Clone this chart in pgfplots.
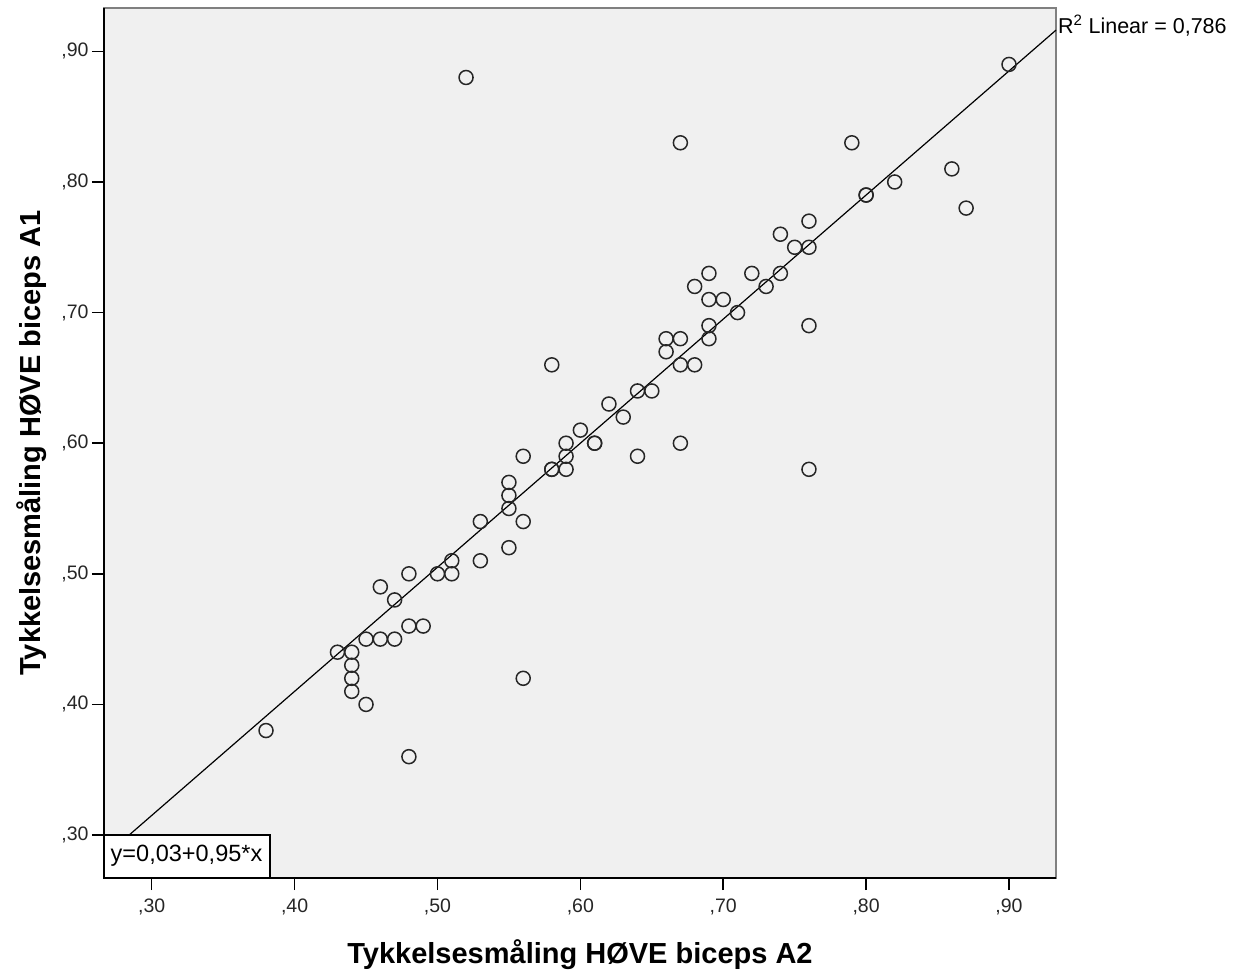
\documentclass[border=0pt]{standalone}
\usepackage{fontspec}
\setmainfont{Liberation Sans}
\usepackage{pgfplots}
\pgfplotsset{compat=1.18}
\definecolor{bg}{HTML}{F0F0F0}
\definecolor{framegray}{HTML}{808080}
\begin{document}
\begin{tikzpicture}
\useasboundingbox (-104pt,-92pt) rectangle (1132pt,878pt);
\begin{axis}[
  at={(0pt,0pt)}, anchor=south west,
  scale only axis, width=952pt, height=870pt,
  xmin=0.2666, xmax=0.9329, ymin=0.2671, ymax=0.9332,
  axis background/.style={fill=bg},
  axis line style={draw=framegray, line width=2pt},
  xtick={0.3,0.4,0.5,0.6,0.7,0.8,0.9},
  xticklabels={{,30},{,40},{,50},{,60},{,70},{,80},{,90}},
  ytick={0.3,0.4,0.5,0.6,0.7,0.8,0.9},
  yticklabels={{,30},{,40},{,50},{,60},{,70},{,80},{,90}},
  tick align=outside, xtick pos=left, ytick pos=left,
  major tick length=12pt,
  every tick/.style={black, line width=1.5pt},
  tick label style={font=\fontsize{19.5}{22}\selectfont, text=black!85},
  xticklabel style={yshift=-5pt},
  /pgf/number format/assume math mode=true,
  clip=false,
  xlabel={Tykkelsesmåling HØVE biceps A2},
  ylabel={Tykkelsesmåling HØVE biceps A1},
  label style={font=\bfseries\fontsize{29}{34}\selectfont},
  xlabel style={at={(axis description cs:0.5,-0.0977)}, anchor=base},
  ylabel style={at={(axis description cs:-0.0672,0.5)}, anchor=base},
]
\addplot[black, line width=1.2pt] coordinates {(0.2666,0.28327) (0.9329,0.91626)};
\addplot[only marks, mark=o, mark size=7pt, black!85, mark options={line width=1.5pt}] coordinates {
(0.52,0.88) (0.67,0.83) (0.90,0.89) (0.79,0.83) (0.86,0.81) (0.82,0.80)
(0.80,0.79) (0.80,0.79) (0.87,0.78) (0.76,0.77) (0.74,0.76) (0.75,0.75)
(0.76,0.75) (0.69,0.73) (0.72,0.73) (0.74,0.73) (0.68,0.72) (0.73,0.72)
(0.69,0.71) (0.70,0.71) (0.71,0.70) (0.69,0.69) (0.76,0.69) (0.66,0.68)
(0.67,0.68) (0.69,0.68) (0.66,0.67) (0.58,0.66) (0.67,0.66) (0.68,0.66)
(0.64,0.64) (0.65,0.64) (0.62,0.63) (0.63,0.62) (0.60,0.61) (0.59,0.60)
(0.61,0.60) (0.61,0.60) (0.67,0.60) (0.56,0.59) (0.59,0.59) (0.64,0.59)
(0.58,0.58) (0.58,0.58) (0.59,0.58) (0.76,0.58) (0.55,0.57) (0.55,0.56)
(0.55,0.55) (0.53,0.54) (0.56,0.54) (0.55,0.52) (0.51,0.51) (0.53,0.51)
(0.48,0.50) (0.50,0.50) (0.51,0.50) (0.46,0.49) (0.47,0.48) (0.48,0.46)
(0.49,0.46) (0.45,0.45) (0.46,0.45) (0.47,0.45) (0.43,0.44) (0.44,0.44)
(0.44,0.43) (0.44,0.42) (0.56,0.42) (0.44,0.41) (0.45,0.40) (0.38,0.38)
(0.48,0.36)
};
\node[draw=black, line width=1.5pt, fill=white, anchor=south west, inner xsep=6pt, inner ysep=0pt,
  minimum height=42.3pt, text width=153pt, align=left, font=\fontsize{23.5}{26}\selectfont]
  at (rel axis cs:0,0) {y=0,03+0,95*x};
\draw[black, line width=2pt] (rel axis cs:0,1) -- (rel axis cs:0,0) -- (rel axis cs:1,0);
\node[anchor=west, inner sep=0pt, xshift=2pt, font=\fontsize{21.5}{24}\selectfont]
  at (axis cs:0.9329,0.9197) {R\textsuperscript{2} Linear = 0,786};
\end{axis}
\end{tikzpicture}
\end{document}
